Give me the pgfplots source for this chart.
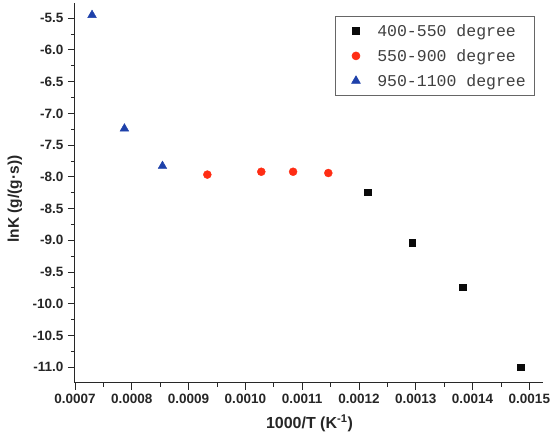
\documentclass[border=0pt]{standalone}
\usepackage{pgfplots}
\pgfplotsset{compat=1.18}
\usepackage{fontspec}
\setmainfont{Liberation Sans}
\newfontfamily\legendfont{Liberation Mono}

\definecolor{sqblack}{RGB}{10,10,10}
\definecolor{cired}{RGB}{255,45,20}
\definecolor{trblue}{RGB}{30,65,170}
\definecolor{axgray}{RGB}{40,40,40}

% low-temperature range
\pgfplotstableread{
x        y
0.001215 -8.24
0.001294 -9.04
0.001383 -9.74
0.001485 -11.00
}\lowT
% intermediate range
\pgfplotstableread{
x        y
0.000933 -7.965
0.001028 -7.92
0.001084 -7.92
0.001146 -7.94
}\midT
% high-temperature range
\pgfplotstableread{
x        y
0.000730 -5.45
0.000787 -7.24
0.000854 -7.83
}\highT

% legend symbol: one mark with some room on both sides
\pgfplotsset{
  scatterpts/.style={only marks,
    legend image code/.code={%
      \path (0pt,0pt) (33pt,0pt);
      \draw[mark repeat=2, mark phase=2, ##1] plot coordinates {(0pt,0pt) (14pt,0pt) (33pt,0pt)};}},
}

\begin{document}
\begin{tikzpicture}
\begin{axis}[
  scale only axis,
  width=468pt, height=380pt,
  xmin=0.0007, xmax=0.001524,
  ymin=-11.25, ymax=-5.26,
  axis x line=bottom, axis y line=left,
  axis line style={-, axgray, line width=1pt},
  tick align=outside,
  major tick length=7pt, minor tick length=4pt,
  every tick/.style={axgray, line width=0.9pt},
  xtick={0.0007,0.0008,...,0.00151},
  ytick={-11,-10.5,...,-5.4},
  minor x tick num=1, minor y tick num=1,
  scaled x ticks=false,
  /pgf/number format/assume math mode=true,
  xticklabel style={/pgf/number format/fixed, /pgf/number format/fixed zerofill,
    /pgf/number format/precision=4, yshift=-1pt},
  yticklabel style={/pgf/number format/fixed, /pgf/number format/fixed zerofill,
    /pgf/number format/precision=1, xshift=-1pt},
  tick label style={font=\bfseries\fontsize{13.5}{16}\selectfont, text=black!85},
  xlabel={1000/T (K\textsuperscript{-1})},
  ylabel={lnK (g/(g\textperiodcentered s))},
  every axis x label/.style={at={(axis description cs:0.501,0)}, yshift=-40pt, anchor=center,
    font=\bfseries\fontsize{16}{19}\selectfont, text=black!85},
  every axis y label/.style={at={(axis description cs:0,0.484)}, xshift=-60pt, rotate=90, anchor=center,
    font=\bfseries\fontsize{15.5}{19}\selectfont, text=black!85},
  legend style={at={(0.981,0.966)}, anchor=north east,
    draw=black!60, line width=0.6pt,
    font=\legendfont\fontsize{16.5}{19}\selectfont, text=black!75,
    row sep=7.5pt, inner xsep=6pt, inner ysep=6pt,
    nodes={inner xsep=2pt}},
  legend cell align=left,
  clip=false,
]
\addplot[scatterpts, mark=square*, mark size=3.3pt, color=sqblack] table[x=x,y=y]{\lowT};
\addlegendentry{400-550 degree}
\addplot[scatterpts, mark=*, mark size=4pt, color=cired] table[x=x,y=y]{\midT};
\addlegendentry{550-900 degree}
\addplot[scatterpts, mark=triangle*, mark size=5pt, color=trblue] table[x=x,y=y]{\highT};
\addlegendentry{950-1100 degree}
\coordinate (origin) at (rel axis cs:0,0);
\end{axis}
\path (origin) ++(-75pt,-61pt) rectangle ++(558pt,444pt);
\end{tikzpicture}
\end{document}
